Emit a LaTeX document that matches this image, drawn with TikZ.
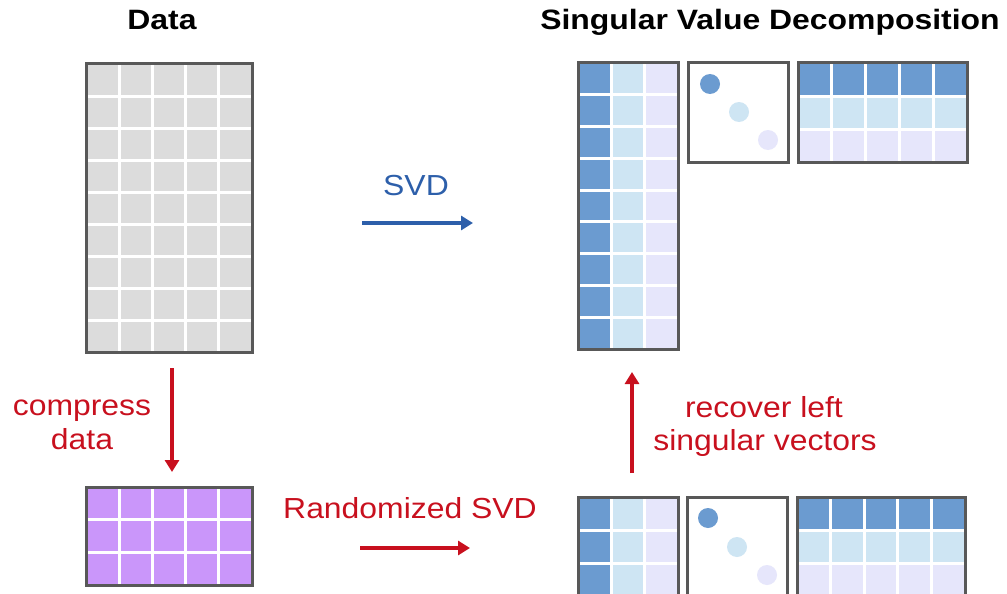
\documentclass[tikz,border=0pt]{standalone}
\usepackage{fontspec}
\setmainfont[FakeStretch=1.1]{Liberation Sans}
\newfontfamily\titlefont[FakeStretch=1.14]{Liberation Sans}
\usetikzlibrary{arrows.meta}

\definecolor{bordergray}{HTML}{585858}
\definecolor{datagray}{HTML}{DCDCDC}
\definecolor{compviolet}{HTML}{CA96FA}
\definecolor{ublue}{HTML}{6B9BD0}
\definecolor{ulight}{HTML}{CEE5F3}
\definecolor{ulav}{HTML}{E6E6FB}
\definecolor{svdblue}{HTML}{2D5FAA}
\definecolor{rsvdred}{HTML}{C8101E}

\tikzset{
  matborder/.style={draw=bordergray, line width=3pt, inner sep=0pt, outer sep=0pt},
  gridline/.style={white, line width=3pt},
  sigmadot/.style={circle, inner sep=0pt, minimum size=20pt},
  title/.style={font=\titlefont\bfseries\fontsize{28}{33}\selectfont, text=black, inner sep=0pt},
  label/.style={font=\fontsize{29}{34}\selectfont, inner sep=0pt},
  bluearrow/.style={draw=svdblue, line width=3.5pt, -{Triangle[length=12pt,width=14pt]}},
  redarrow/.style={draw=rsvdred, line width=3.5pt, -{Triangle[length=12pt,width=14pt]}},
}

% white grid lines plus a framed node: name, x0, y0, width, height, cols, rows
\newcommand\matgrid[7]{%
  \foreach \i in {1,...,#6} \draw[gridline] ({#2+\i*#4/#6},#3) -- ++(0,#5);
  \foreach \j in {1,...,#7} \draw[gridline] (#2,{#3+\j*#5/#7}) -- ++(#4,0);
  \node[matborder, minimum width=#4pt, minimum height=#5pt, anchor=north west] (#1) at (#2,#3) {};
}

\begin{document}
\begin{tikzpicture}[x=1pt, y=-1pt]
  \useasboundingbox (0,0) rectangle (1007,594);
  \clip (0,0) rectangle (1007,594);

  % titles
  \node[title, anchor=base] (tdata) at (162,30) {Data};
  \node[title, anchor=base] (tsvd) at (770,30) {Singular Value Decomposition};

  % data matrix
  \fill[datagray] (86,64) rectangle ++(166,288);
  \matgrid{data}{86}{64}{166}{288}{5}{9}

  % compressed data
  \fill[compviolet] (86,487) rectangle ++(166,98);
  \matgrid{comp}{86}{487}{166}{98}{5}{3}

  % full SVD: U
  \fill[ublue]  (578,63) rectangle ++(33.33,286);
  \fill[ulight] (611.33,63) rectangle ++(33.33,286);
  \fill[ulav]   (644.67,63) rectangle ++(33.33,286);
  \matgrid{utop}{578}{63}{100}{286}{3}{9}

  % full SVD: Sigma
  \fill[white] (688,63) rectangle ++(100,99);
  \node[matborder, minimum width=100pt, minimum height=99pt, anchor=north west] (stop) at (688,63) {};
  \node[sigmadot, fill=ublue]  (s1top) at (710,84) {};
  \node[sigmadot, fill=ulight] (s2top) at (739,112) {};
  \node[sigmadot, fill=ulav]   (s3top) at (768,140) {};

  % full SVD: V^T
  \fill[ublue]  (798,63) rectangle ++(169,33);
  \fill[ulight] (798,96) rectangle ++(169,33);
  \fill[ulav]   (798,129) rectangle ++(169,33);
  \matgrid{vtop}{798}{63}{169}{99}{5}{3}

  % randomized SVD: U (runs past the lower edge)
  \fill[ublue]  (578,497) rectangle ++(33.33,99);
  \fill[ulight] (611.33,497) rectangle ++(33.33,99);
  \fill[ulav]   (644.67,497) rectangle ++(33.33,99);
  \matgrid{ubot}{578}{497}{100}{99}{3}{3}

  % randomized SVD: Sigma
  \fill[white] (687,497) rectangle ++(100,98);
  \node[matborder, minimum width=100pt, minimum height=98pt, anchor=north west] (sbot) at (687,497) {};
  \node[sigmadot, fill=ublue]  (s1bot) at (708,518) {};
  \node[sigmadot, fill=ulight] (s2bot) at (737,547) {};
  \node[sigmadot, fill=ulav]   (s3bot) at (767,575) {};

  % randomized SVD: V^T
  \fill[ublue]  (797,497) rectangle ++(168,33);
  \fill[ulight] (797,530) rectangle ++(168,33);
  \fill[ulav]   (797,563) rectangle ++(168,33);
  \matgrid{vbot}{797}{497}{168}{99}{5}{3}

  % arrow end points
  \coordinate (svdA) at (362,223);
  \coordinate (svdB) at (473,223);
  \coordinate (compA) at (172,368);
  \coordinate (compB) at (172,472);
  \coordinate (rsvdA) at (360,548);
  \coordinate (rsvdB) at (470,548);
  \coordinate (recA) at (632,473);
  \coordinate (recB) at (632,372);

  \draw[bluearrow] (svdA) -- (svdB);
  \draw[redarrow] (compA) -- (compB);
  \draw[redarrow] (rsvdA) -- (rsvdB);
  \draw[redarrow] (recA) -- (recB);

  % labels
  \node[label, text=svdblue, anchor=base] (lsvd) at (416,195) {SVD};
  \node[label, text=rsvdred, anchor=base] (lcomp1) at (82,415) {compress};
  \node[label, text=rsvdred, anchor=base] (lcomp2) at (82,449) {data};
  \node[label, text=rsvdred, anchor=base] (lrsvd) at (410,518) {Randomized SVD};
  \node[label, text=rsvdred, anchor=base] (lrec1) at (764,417) {recover left};
  \node[label, text=rsvdred, anchor=base] (lrec2) at (765,450) {singular vectors};
\end{tikzpicture}
\end{document}
